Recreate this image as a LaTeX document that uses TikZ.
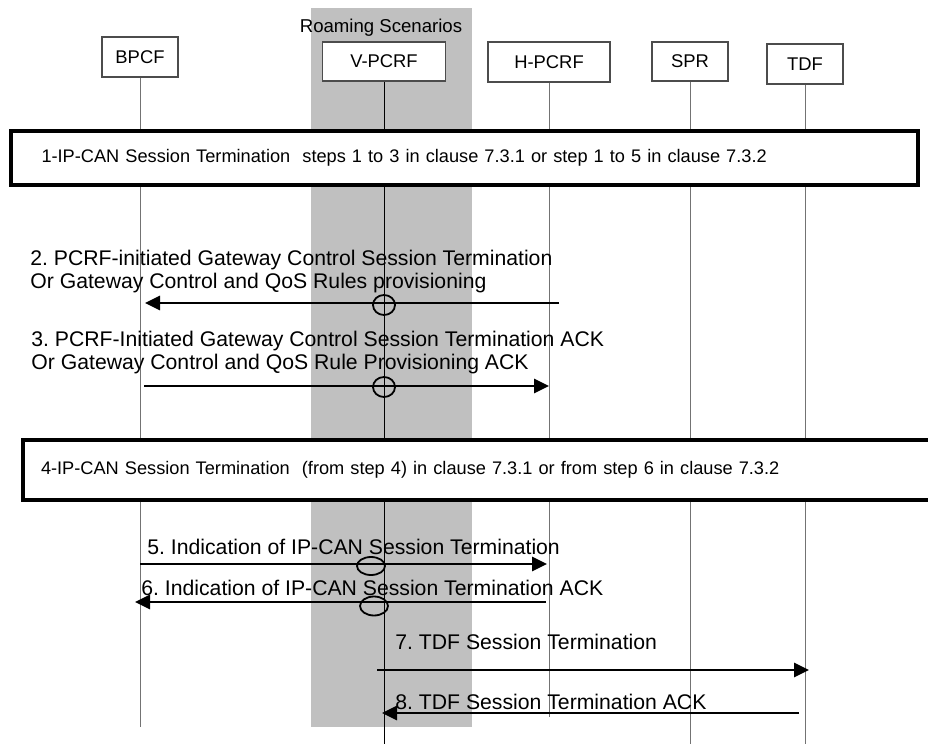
\documentclass[tikz,border=0pt]{standalone}
\usepackage{fontspec}
\setmainfont{Liberation Sans}
\usetikzlibrary{arrows.meta, positioning}

\definecolor{roamgray}{RGB}{192,192,192}
\frenchspacing

\begin{document}
\begin{tikzpicture}[
  x=0.5pt, y=-0.5pt,
  entity/.style={rectangle, draw=black!70, line width=0.6pt, fill=white, font=\fontsize{9.2}{11}\selectfont, inner sep=0pt},
  phase/.style={rectangle, draw, line width=2pt, fill=white, font=\fontsize{9.1}{11}\selectfont, align=left},
  lifeline/.style={draw=black!55, line width=0.5pt},
  msg/.style={line width=1.4pt, -{Triangle[length=7.5pt,width=7pt]}},
  msglabel/.style={font=\fontsize{10.6}{11.5}\selectfont, align=left, anchor=west, inner sep=0pt},
  pass/.style={line width=0.9pt}
]
\useasboundingbox (0,0) rectangle (928,744);

% roaming area
\fill[roamgray] (311,8) rectangle (472,727);
\node[font=\fontsize{9.3}{11}\selectfont, inner sep=0pt] (roam) at (381,28) {Roaming Scenarios};

% entities
\node[entity, minimum width=38pt, minimum height=20pt] (bpcf) at (140,57) {BPCF};
\node[entity, minimum width=61.5pt, minimum height=19.5pt] (vpcrf) at (384,61.5) {V-PCRF};
\node[entity, minimum width=61pt, minimum height=20pt] (hpcrf) at (549,62) {H-PCRF};
\node[entity, minimum width=38pt, minimum height=19.5pt] (spr) at (690,61.5) {SPR};
\node[entity, minimum width=38pt, minimum height=20pt] (tdf) at (805,64) {TDF};

\coordinate (bandend) at (0,727);
\coordinate (hend) at (0,717);
\coordinate (bottom) at (0,744);

% lifelines
\draw[lifeline] (bpcf.south) -- (bpcf.south |- bandend);
\draw[lifeline, draw=black] (vpcrf.south) -- (vpcrf.south |- bottom);
\draw[lifeline] (hpcrf.south) -- (hpcrf.south |- hend);
\draw[lifeline] (spr.south) -- (spr.south |- bottom);
\draw[lifeline] (tdf.south) -- (tdf.south |- bottom);

% phases
\node[phase, inner xsep=15.5pt, text width=422.5pt, minimum height=27pt] (step1) at (464,158)
  {1-IP-CAN Session Termination\ \ steps 1 to 3 in clause 7.3.1 or step 1 to 5 in clause 7.3.2};
\node[phase, inner xsep=9pt, text width=438pt, minimum height=30.25pt] (step4) at (479,470)
  {4-IP-CAN Session Termination\ \ (from step 4) in clause 7.3.1 or from step 6 in clause 7.3.2};

% messages
\coordinate (m2) at (0,303);
\coordinate (m3) at (0,386);
\coordinate (m5) at (0,564);
\coordinate (m6) at (0,602);
\coordinate (m7) at (0,670);
\coordinate (m8) at (0,713);

\node[msglabel] (l2) at (30,271.5) {2. PCRF-initiated Gateway Control Session Termination\\Or Gateway Control and QoS Rules provisioning};
\draw[msg] ([xshift=5pt]hpcrf |- m2) -- ([xshift=2.5pt]bpcf |- m2);
\draw[pass] ([yshift=-1pt]vpcrf |- m2) ellipse [x radius=5.5pt, y radius=5pt];

\node[msglabel] (l3) at (31,352.5) {3. PCRF-Initiated Gateway Control Session Termination ACK\\Or Gateway Control and QoS Rule Provisioning ACK};
\draw[msg] ([xshift=2pt]bpcf |- m3) -- (hpcrf |- m3);
\draw[pass] ([yshift=-0.5pt]vpcrf |- m3) ellipse [x radius=5.5pt, y radius=5pt];

\node[msglabel] (l5) at (147,547) {5. Indication of IP-CAN Session Termination};
\draw[msg] (bpcf |- m5) -- ([xshift=-1pt]hpcrf |- m5);
\draw[pass] ([xshift=-6.5pt, yshift=-1pt]vpcrf |- m5) ellipse [x radius=7pt, y radius=4.5pt];

\node[msglabel] (l6) at (141,588) {6. Indication of IP-CAN Session Termination ACK};
\draw[msg] ([xshift=-1.5pt]hpcrf |- m6) -- ([xshift=-2.5pt]bpcf |- m6);
\draw[pass] ([xshift=-5pt, yshift=-2pt]vpcrf |- m6) ellipse [x radius=7pt, y radius=4.75pt];

\node[msglabel] (l7) at (395,642) {7. TDF Session Termination};
\draw[msg] ([xshift=-3.5pt]vpcrf |- m7) -- ([xshift=2pt]tdf |- m7);

\node[msglabel] (l8) at (395,702) {8. TDF Session Termination ACK};
\draw[msg] ([xshift=-3pt]tdf |- m8) -- ([xshift=-1pt]vpcrf |- m8);

\end{tikzpicture}
\end{document}
